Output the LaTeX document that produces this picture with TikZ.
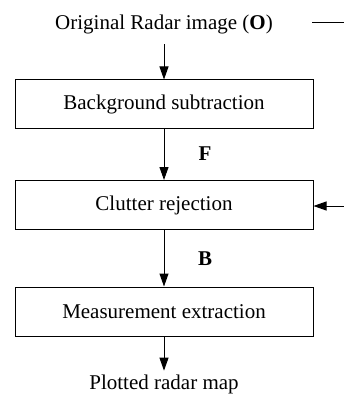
\documentclass[tikz,border=0pt]{standalone}
\usepackage{fontspec}
\setmainfont{Liberation Serif}
\usetikzlibrary{arrows.meta}
\begin{document}
\begin{tikzpicture}[x=1pt,y=-1pt,line width=1pt,
  every node/.style={font=\fontsize{21}{25}\selectfont},
  stage/.style={draw,minimum width=298pt,minimum height=49pt,inner sep=0pt},
  flow/.style={-{Triangle[length=13pt,width=9pt]}}]
\useasboundingbox (0,0) rectangle (343,398);
\node (orig) at (164,24) {Original Radar image (\textbf{O})};
\node[stage] (bgsub) at (164,104.5) {Background subtraction};
\node[stage] (clutter) at (164,205) {Clutter rejection};
\node[stage] (meas) at (164,311.5) {Measurement extraction};
\node (plot) at (164,384) {Plotted radar map};
\node (lblF) at (205,154) {\textbf{F}};
\node (lblB) at (205,259) {\textbf{B}};
\coordinate (fbtop) at (312,23);
\coordinate (fbtopend) at (350,23);
\coordinate (fbin) at (350,206);
%\draw[very thin,color=gray] (0,0) grid (343,398);
\draw (fbtop) -- (fbtopend);
\draw[flow,shorten <=7pt] (orig) -- (bgsub);
\draw[flow] (bgsub) -- (clutter);
\draw[flow] (fbin) -- (clutter.east |- fbin);
\draw[flow] (clutter) -- (meas);
\draw[flow] (meas) -- (plot);
\end{tikzpicture}
\end{document}
